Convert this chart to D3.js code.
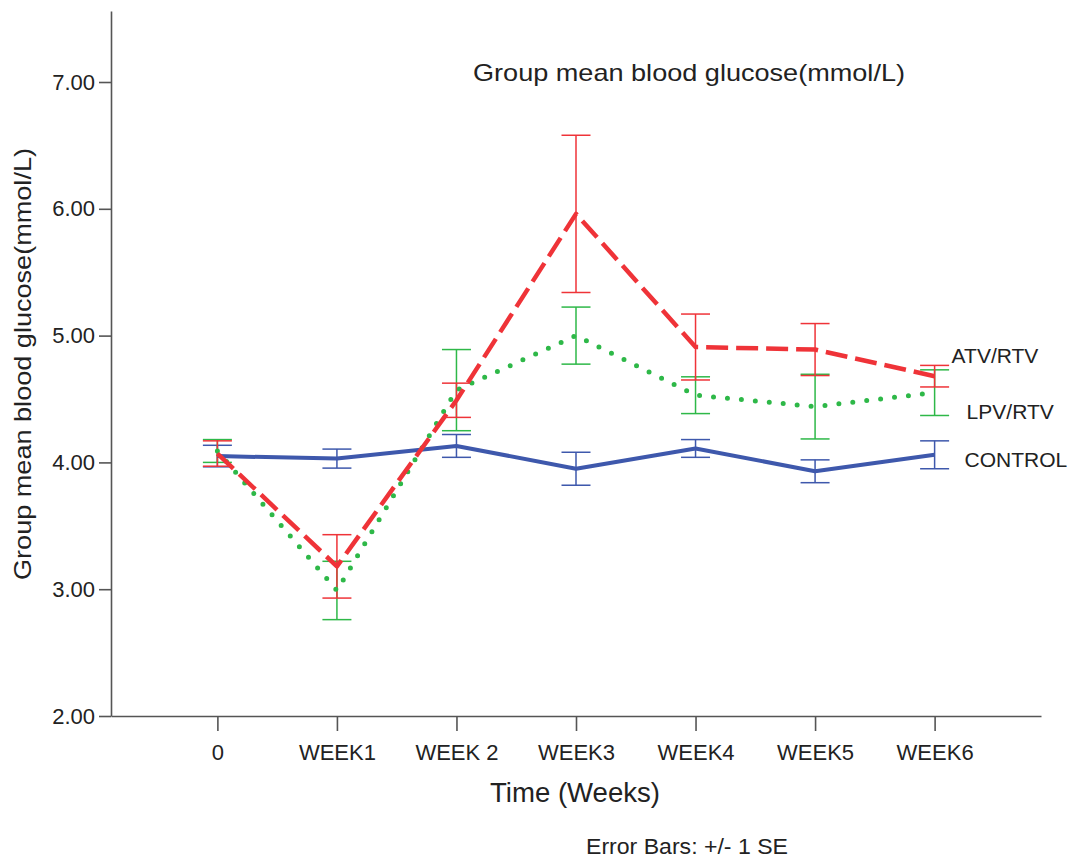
<!DOCTYPE html>
<html>
<head>
<meta charset="utf-8">
<script src="https://cdn.jsdelivr.net/npm/d3@7"></script>
<style>
  body { margin: 0; background: #fff; }
  svg { display: block; font-family: "Liberation Sans", Arial, sans-serif; }
  .axis path, .axis line { stroke: #555; stroke-width: 1.6; }
  .axis text { fill: #222; font-size: 22px; }
</style>
</head>
<body>
<div class="chart"></div>
<script>
// categories on the x axis
var weeks = ["0", "WEEK1", "WEEK 2", "WEEK3", "WEEK4", "WEEK5", "WEEK6"];

// group means (mmol/L) and standard errors
var controlMean = [4.05, 4.03, 4.13, 3.95, 4.11, 3.93, 4.06];
var controlSE   = [0.085, 0.075, 0.09, 0.13, 0.07, 0.09, 0.11];
var lpvMean     = [4.09, 2.99, 4.57, 5.00, 4.53, 4.44, 4.55];
var lpvSE       = [0.09, 0.23, 0.32, 0.225, 0.145, 0.255, 0.18];
var atvMean     = [4.07, 3.18, 4.49, 5.96, 4.91, 4.89, 4.68];
var atvSE       = [0.10, 0.25, 0.135, 0.62, 0.26, 0.205, 0.085];

var yTicks = [2, 3, 4, 5, 6, 7];

var series = [
  {name: "CONTROL", mean: controlMean, se: controlSE, color: "#3e58ac", dash: null, width: 4, dx: 30, dy: 12},
  {name: "LPV/RTV", mean: lpvMean, se: lpvSE, color: "#2eb848", dash: "0,14", width: 5, cap: "round", dx: 32, dy: 26},
  {name: "ATV/RTV", mean: atvMean, se: atvSE, color: "#ef3338", dash: "22,8", width: 4.5, dx: 17, dy: -13}
];

var width = 1073, height = 859;

var svg = d3.select(".chart")
            .append("svg")
            .attr("width", width)
            .attr("height", height);

var x = d3.scalePoint()
    .domain(weeks)
    .range([111, 1041])
    .padding(0.89);

var y = d3.scaleLinear()
    .domain([2, 7.56])
    .range([716, 11]);

// axes
svg.append("g")
   .attr("class", "axis")
   .attr("transform", "translate(0,716)")
   .call(d3.axisBottom(x).tickSize(15).tickSizeOuter(0).tickPadding(8))
   .call(function(g){ g.selectAll("text").attr("dy", "0.95em"); });

svg.append("g")
   .attr("class", "axis")
   .attr("transform", "translate(111,0)")
   .call(d3.axisLeft(y).tickValues(yTicks).tickFormat(d3.format(".2f")).tickSize(12).tickSizeOuter(0).tickPadding(4));

// error bars
series.forEach(function(s){
  var g = svg.append("g").attr("stroke", s.color).attr("stroke-width", 1.5).attr("fill", "none");
  weeks.forEach(function(w, i){
    var cx = x(w), top = y(s.mean[i] + s.se[i]), bot = y(s.mean[i] - s.se[i]);
    g.append("line").attr("x1", cx).attr("x2", cx).attr("y1", top).attr("y2", bot);
    g.append("line").attr("x1", cx - 14.5).attr("x2", cx + 14.5).attr("y1", top).attr("y2", top);
    g.append("line").attr("x1", cx - 14.5).attr("x2", cx + 14.5).attr("y1", bot).attr("y2", bot);
  });
});

// lines
var line = d3.line()
    .x(function(d, i){ return x(weeks[i]); })
    .y(function(d){ return y(d); });

series.forEach(function(s){
  svg.append("path")
     .datum(s.mean)
     .attr("d", line)
     .attr("fill", "none")
     .attr("stroke", s.color)
     .attr("stroke-width", s.width)
     .attr("stroke-linecap", s.cap || "butt")
     .attr("stroke-linejoin", "round")
     .attr("stroke-dasharray", s.dash);

  var last = s.mean.length - 1;
  svg.append("text")
     .attr("x", x(weeks[last]) + s.dx)
     .attr("y", y(s.mean[last]) + s.dy)
     .attr("font-size", 21)
     .attr("fill", "#222")
     .text(s.name);
});

// titles
svg.append("text")
   .attr("x", 473).attr("y", 81)
   .attr("font-size", 24)
   .attr("fill", "#222")
   .attr("textLength", 432).attr("lengthAdjust", "spacingAndGlyphs")
   .text("Group mean blood glucose(mmol/L)");

svg.append("text")
   .attr("transform", "translate(31,580) rotate(-90)")
   .attr("font-size", 24)
   .attr("fill", "#222")
   .attr("textLength", 432).attr("lengthAdjust", "spacingAndGlyphs")
   .text("Group mean blood glucose(mmol/L)");

svg.append("text")
   .attr("x", 490).attr("y", 802)
   .attr("font-size", 27)
   .attr("fill", "#222")
   .attr("textLength", 170).attr("lengthAdjust", "spacingAndGlyphs")
   .text("Time (Weeks)");

svg.append("text")
   .attr("x", 586).attr("y", 854)
   .attr("font-size", 22)
   .attr("fill", "#222")
   .attr("textLength", 202).attr("lengthAdjust", "spacingAndGlyphs")
   .text("Error Bars: +/- 1 SE");
</script>
</body>
</html>
